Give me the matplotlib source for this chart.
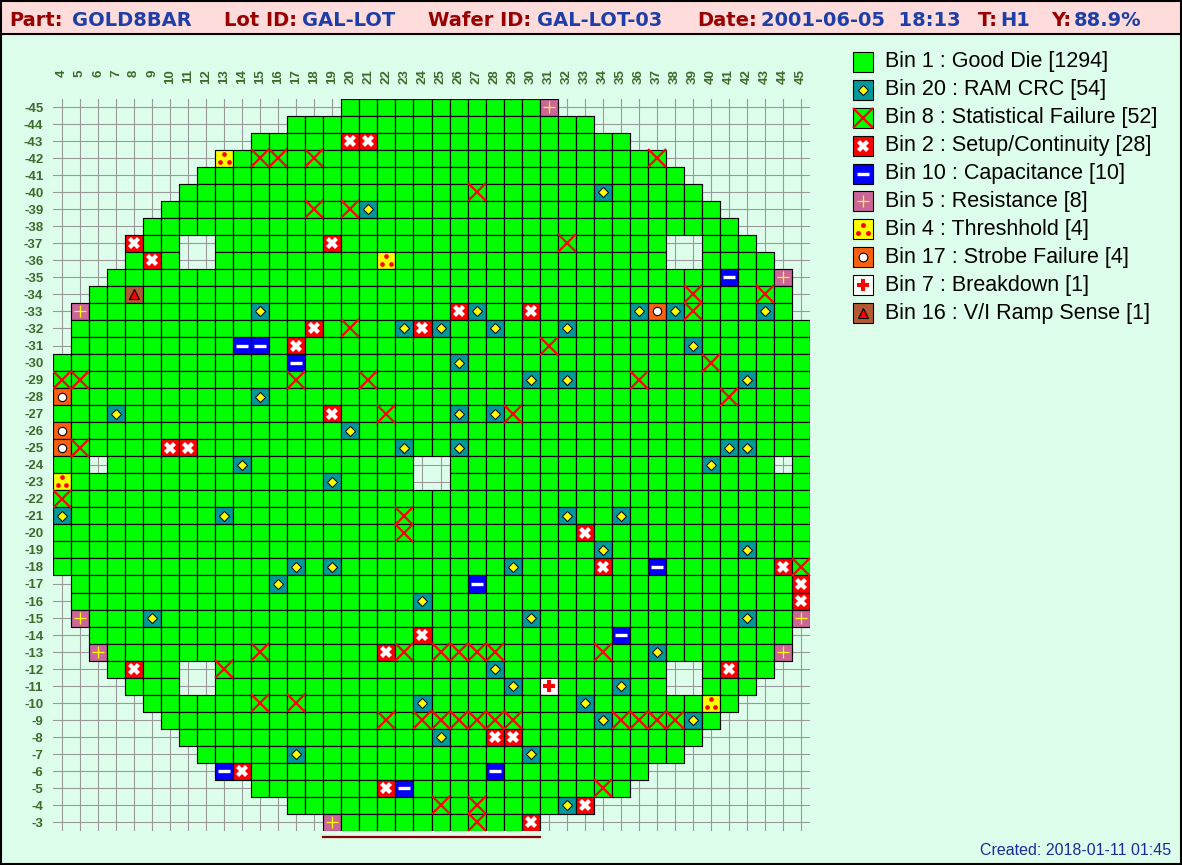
import numpy as np
import matplotlib
matplotlib.use("Agg")
import matplotlib.pyplot as plt
from matplotlib.patches import Rectangle
from matplotlib.collections import PatchCollection
from matplotlib.transforms import offset_copy

plt.rcParams['font.family'] = ['Liberation Sans', 'DejaVu Sans']

# ---------------- header / footer text ----------------
hdr_labels = ["Part:", "Lot ID:", "Wafer ID:", "Date:", "T:", "Y:"]
hdr_values = ["GOLD8BAR", "GAL-LOT", "GAL-LOT-03", "2001-06-05  18:13", "H1", "88.9%"]
created_text = "Created: 2018-01-11 01:45"

# ---------------- wafer layout ----------------
cols = list(range(4, 46))
rows = list(range(-45, -2))
row_first = [20, 17, 15, 13, 12, 11, 10, 9, 8, 8, 7, 6, 5, 5, 5,
             4, 4, 4, 4, 4, 4, 4, 4, 4, 4, 4, 4, 4,
             5, 5, 5, 6, 6, 7, 8, 9, 10, 11, 12, 13, 15, 17, 19]
row_last = [31, 33, 35, 37, 38, 39, 40, 41, 42, 43, 44, 44, 44, 45, 45,
            45, 45, 45, 45, 45, 45, 45, 45, 45, 45, 45, 45, 45,
            45, 45, 45, 44, 44, 43, 42, 41, 40, 39, 38, 36, 35, 33, 30]
holes = [(11, -37), (12, -37), (38, -37), (39, -37), (11, -36), (12, -36), (38, -36), (39, -36),
         (6, -24), (24, -24), (25, -24), (44, -24), (24, -23), (25, -23),
         (11, -12), (12, -12), (38, -12), (39, -12), (11, -11), (12, -11), (38, -11), (39, -11)]

# ---------------- bins ----------------
bin_ids = [1, 20, 8, 2, 10, 5, 4, 17, 7, 16]
bin_names = ["Good Die", "RAM CRC", "Statistical Failure", "Setup/Continuity", "Capacitance",
             "Resistance", "Threshhold", "Strobe Failure", "Breakdown", "V/I Ramp Sense"]
bin_counts = [1294, 54, 52, 28, 10, 8, 4, 4, 1, 1]
bin_colors = ["#00FF00", "#009999", "#00FF00", "#FF0000", "#0000FF",
              "#CC6699", "#FFFF00", "#FF6010", "#FFFFFF", "#B45A32"]

bin20_dies = [(34, -40), (21, -39), (15, -33), (27, -33), (36, -33), (38, -33), (43, -33),
              (23, -32), (25, -32), (28, -32), (32, -32), (39, -31), (26, -30), (30, -29),
              (32, -29), (42, -29), (15, -28), (7, -27), (26, -27), (28, -27), (20, -26),
              (23, -25), (26, -25), (41, -25), (42, -25), (14, -24), (40, -24), (19, -23),
              (4, -21), (13, -21), (32, -21), (35, -21), (34, -19), (42, -19), (17, -18),
              (19, -18), (29, -18), (16, -17), (24, -16), (9, -15), (30, -15), (42, -15),
              (37, -13), (28, -12), (29, -11), (35, -11), (24, -10), (33, -10), (34, -9),
              (39, -9), (25, -8), (17, -7), (30, -7), (32, -4)]
bin8_dies = [(15, -42), (16, -42), (18, -42), (37, -42), (27, -40), (18, -39), (20, -39),
             (32, -37), (39, -34), (43, -34), (39, -33), (20, -32), (31, -31), (40, -30),
             (4, -29), (5, -29), (17, -29), (21, -29), (36, -29), (41, -28), (22, -27),
             (29, -27), (5, -25), (4, -22), (23, -21), (23, -20), (45, -18), (15, -13),
             (23, -13), (25, -13), (26, -13), (27, -13), (28, -13), (34, -13), (13, -12),
             (15, -10), (17, -10), (22, -9), (24, -9), (25, -9), (26, -9), (27, -9), (28, -9),
             (29, -9), (35, -9), (36, -9), (37, -9), (38, -9), (34, -5), (25, -4), (27, -4),
             (27, -3)]
bin2_dies = [(20, -43), (21, -43), (8, -37), (19, -37), (9, -36), (26, -33), (30, -33),
             (18, -32), (24, -32), (17, -31), (19, -27), (10, -25), (11, -25), (33, -20),
             (34, -18), (44, -18), (45, -17), (45, -16), (24, -14), (22, -13), (8, -12),
             (41, -12), (28, -8), (29, -8), (14, -6), (22, -5), (33, -4), (30, -3)]
bin10_dies = [(41, -35), (14, -31), (15, -31), (17, -30), (37, -18), (27, -17), (35, -14),
              (13, -6), (28, -6), (23, -5)]
bin5_dies = [(31, -45), (44, -35), (5, -33), (5, -15), (45, -15), (6, -13), (44, -13), (19, -3)]
bin4_dies = [(13, -42), (22, -36), (4, -23), (40, -10)]
bin17_dies = [(37, -33), (4, -28), (4, -26), (4, -25)]
bin7_dies = [(31, -11)]
bin16_dies = [(8, -34)]

fail_dies = [None, bin20_dies, bin8_dies, bin2_dies, bin10_dies, bin5_dies,
             bin4_dies, bin17_dies, bin7_dies, bin16_dies]

# ---------------- build grid ----------------
grid = np.full((len(rows), len(cols)), np.nan)
for ri, r in enumerate(rows):
    for c in range(row_first[ri], row_last[ri] + 1):
        grid[ri, cols.index(c)] = 0
for c, r in holes:
    grid[rows.index(r), cols.index(c)] = np.nan
for k, dies in enumerate(fail_dies):
    if dies is None:
        continue
    for c, r in dies:
        grid[rows.index(r), cols.index(c)] = k

W, H = 1182, 865
DPI = 100
BG = "#DDFEEA"
fig = plt.figure(figsize=(W / DPI, H / DPI), dpi=DPI, facecolor=BG)

def px_axes(x0, y0, x1, y1):
    return fig.add_axes([x0 / W, 1 - y1 / H, (x1 - x0) / W, (y1 - y0) / H])

# header band
fig.patches.append(Rectangle((0, 1 - 34 / H), 1, 34 / H, transform=fig.transFigure,
                             facecolor="#FFDCDC", edgecolor="black", linewidth=1.5, zorder=0))
fig.patches.append(Rectangle((0.0006, 0.0008), 0.9988, 0.9984, transform=fig.transFigure,
                             facecolor="none", edgecolor="black", linewidth=1.5, zorder=5))

hdr_lab_x = [9, 224, 428, 697, 978, 1051]
hdr_val_x = [72, 302, 537, 761, 1000, 1074]
hfont = dict(family=['DejaVu Sans'], fontsize=14, fontweight='bold', va='baseline', ha='left')
for lab, val, lx, vx in zip(hdr_labels, hdr_values, hdr_lab_x, hdr_val_x):
    fig.text(lx / W, 1 - 26.5 / H, lab, color="#990000", **hfont)
    fig.text(vx / W, 1 - 26.5 / H, val, color="#1F3FA8", **hfont)

fig.text(1171 / W, 1 - 855 / H, created_text, color="#1A2A9A", fontsize=11.5,
         ha='right', va='baseline')

# ---------------- wafer map ----------------
ax = px_axes(53, 98.5, 810, 831)
ax.set_facecolor("none")
rects, fcs = [], []
for ri, r in enumerate(rows):
    for ci, c in enumerate(cols):
        v = grid[ri, ci]
        if np.isnan(v):
            continue
        rects.append(Rectangle((c - 0.5, r - 0.5), 1, 1))
        fcs.append(bin_colors[int(v)])
ax.add_collection(PatchCollection(rects, facecolors=fcs, edgecolors="black",
                                  linewidths=0.85, zorder=2))
ax.set_xlim(cols[0] - 0.5, cols[-1] + 0.5)
ax.set_ylim(rows[-1] + 0.5, rows[0] - 0.5)
ax.set_axisbelow(True)
ax.grid(True, color="#999999", linewidth=0.8)
for s in ax.spines.values():
    s.set_visible(False)

tick_color = "#3C6B2C"
ax.set_xticks(cols)
ax.set_xticklabels([str(c) for c in cols])
ax.set_yticks(rows)
ax.set_yticklabels([str(r) for r in rows])
ax.xaxis.tick_top()
ax.tick_params(axis='x', length=0, pad=21, labelsize=9.5, labelcolor=tick_color, labelrotation=90)
ax.tick_params(axis='y', length=0, pad=7, labelsize=9.5, labelcolor=tick_color)
for lab in ax.get_xticklabels():
    lab.set_fontweight('bold')
    lab.set_verticalalignment('top')
for lab in ax.get_yticklabels():
    lab.set_fontweight('bold')


def xy(dies):
    return [d[0] for d in dies], [d[1] for d in dies]


def draw_symbols(a, k, x, y, scale=1.0, z=3):
    if k == 1:
        a.plot(x, y, ls='none', marker='D', ms=5.3 * scale, mfc='#FFFF00', mec='black', mew=0.7, zorder=z)
    elif k == 2:
        a.plot(x, y, ls='none', marker='x', ms=13.5 * scale, mec='#FF0000', mew=1.6, zorder=z)
    elif k == 3:
        a.plot(x, y, ls='none', marker='X', ms=8.2 * scale, mfc='white', mew=0, zorder=z)
    elif k == 4:
        a.plot(x, y, ls='none', marker='_', ms=8.5 * scale, mec='white', mew=2.4, zorder=z)
    elif k == 5:
        a.plot(x, y, ls='none', marker='+', ms=8.5 * scale, mec='#FFFF00', mew=0.9, zorder=z)
    elif k == 6:
        for dx, dy in [(0, 4.5), (-4.3, -3.5), (4.3, -3.5)]:
            tr = offset_copy(a.transData, fig=fig, x=dx * scale, y=dy * scale, units='dots')
            a.plot(x, y, ls='none', marker='o', ms=3.4 * scale, mfc='#FF0000', mew=0,
                   transform=tr, zorder=z)
    elif k == 7:
        a.plot(x, y, ls='none', marker='o', ms=6 * scale, mfc='white', mec='black', mew=0.8, zorder=z)
    elif k == 8:
        a.plot(x, y, ls='none', marker='P', ms=8.2 * scale, mfc='#FF0000', mew=0, zorder=z)
    elif k == 9:
        a.plot(x, y, ls='none', marker='^', ms=6.5 * scale, mfc='#FF0000', mec='black', mew=0.8, zorder=z)


for k, dies in enumerate(fail_dies):
    if dies is None:
        continue
    x, y = xy(dies)
    draw_symbols(ax, k, x, y)

# flat indicator line under the bottom row
ax.plot([row_first[-1] - 0.5, row_last[-1] + 0.5], [rows[-1] + 0.85, rows[-1] + 0.85],
        color="#8B0000", lw=1.6, clip_on=False, zorder=3)

# ---------------- legend ----------------
lax = px_axes(840, 48, 1180, 48 + 27.9 * 10)
lax.set_xlim(0, 340)
lax.set_ylim(len(bin_ids) - 0.5, -0.5)
lax.axis('off')
for i, (b, name, cnt) in enumerate(zip(bin_ids, bin_names, bin_counts)):
    lax.plot([23], [i], ls='none', marker='s', ms=14.4, mfc=bin_colors[i], mec='black',
             mew=0.8, zorder=2)
    if i > 0:
        draw_symbols(lax, i, [23], [i], scale=1.05 if i != 2 else 1.1)
    lax.text(45, i, f"Bin {b} : {name} [{cnt}]", fontsize=15.5, va='center', ha='left', color='black')

fig.savefig("out.png", dpi=DPI, facecolor=BG)
